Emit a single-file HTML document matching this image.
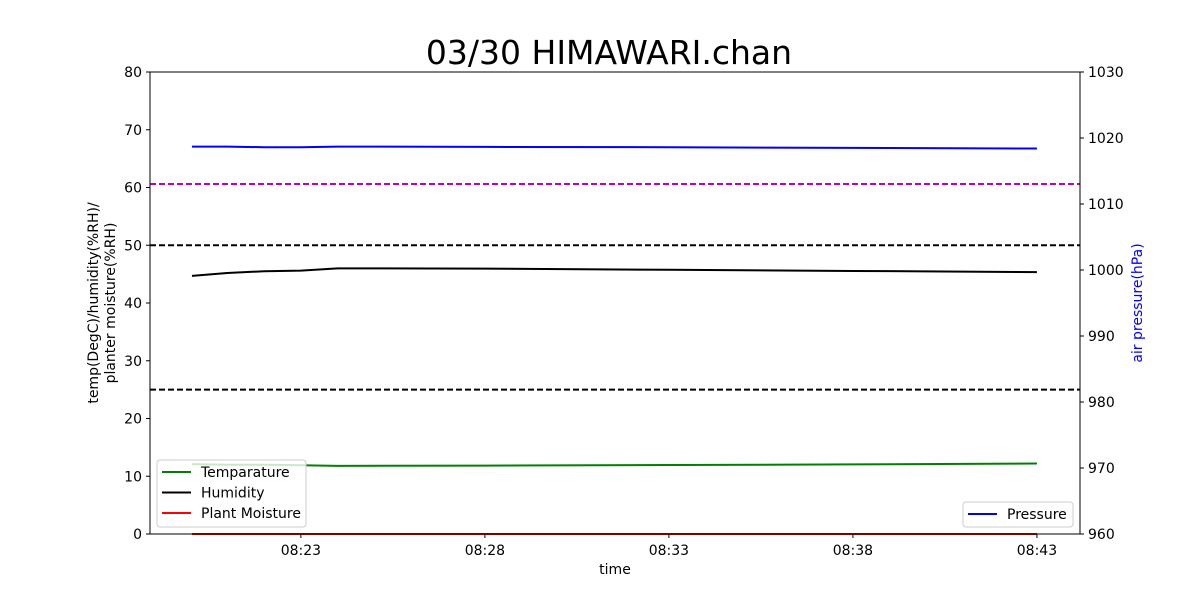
<!DOCTYPE html>
<html><head><meta charset="utf-8"><style>
body{margin:0;background:#fff}
svg{font-family:"DejaVu Sans","Liberation Sans",sans-serif}
</style></head><body>
<svg id="chart" width="1200" height="600" xmlns="http://www.w3.org/2000/svg"></svg>
<script>
// minutes after 08:00
const times=[20.04,21.0,22.0,23.0,24.0,28,33,38,43];
const temperature=[12.1,12.0,12.0,11.9,11.8,11.85,11.95,12.05,12.2];
const humidity=[44.7,45.2,45.5,45.6,46.0,45.95,45.75,45.55,45.35];
const plantMoisture=[0,0,0,0,0,0,0,0,0];
const pressure=[1018.7,1018.7,1018.6,1018.6,1018.7,1018.65,1018.6,1018.5,1018.4];
const hLines=[{v:60.6,c:"#bf00bf"},{v:50,c:"#000"},{v:25,c:"#000"}];
const leftTicks=[0,10,20,30,40,50,60,70,80];
const rightTicks=[960,970,980,990,1000,1010,1020,1030];
const xTicks=[23,28,33,38,43];
const xTickLabels=["08:23","08:28","08:33","08:38","08:43"];

const L=150,R=1080,T=72,B=534;
const X0=18.9,X1=44.17;
const xs=m=>L+(m-X0)/(X1-X0)*(R-L);
const yl=v=>B-v/80*(B-T);
const yr=v=>B-(v-960)/70*(B-T);
const svg=document.getElementById('chart');
const NS="http://www.w3.org/2000/svg";
function el(tag,attrs,parent){const e=document.createElementNS(NS,tag);for(const k in attrs)e.setAttribute(k,attrs[k]);(parent||svg).appendChild(e);return e;}
function txt(s,attrs){const e=el('text',attrs);e.textContent=s;return e;}

let t=txt("03/30 HIMAWARI.chan",{x:609,y:64,'text-anchor':'middle','font-size':33});



hLines.forEach((h,i)=>{
 const l=el('line',{x1:L,x2:R,y1:yl(h.v),y2:yl(h.v),stroke:h.c,'stroke-width':2,'stroke-dasharray':'6,3'});
 
 
});
function series(vals,yf,color,name){
 const p=el('polyline',{points:vals.map((v,i)=>xs(times[i])+','+yf(v)).join(' '),fill:'none',stroke:color,'stroke-width':2});
 
 
}
series(temperature,yl,'#008000','temperature-line');
series(humidity,yl,'#000','humidity-line');
series(plantMoisture,yl,'#ff0000','plant-moisture-line');
series(pressure,yr,'#0000ff','pressure-line');

const frame=el('rect',{x:L,y:T,width:R-L,height:B-T,fill:'none',stroke:'#000','stroke-width':1});



leftTicks.forEach(v=>{
 el('line',{x1:L-4,x2:L,y1:yl(v),y2:yl(v),stroke:'#000'});
 const e=txt(v,{x:L-8,y:yl(v)+5,'text-anchor':'end','font-size':14});
 
 
});
rightTicks.forEach(v=>{
 el('line',{x1:R,x2:R+4,y1:yr(v),y2:yr(v),stroke:'#000'});
 const e=txt(v,{x:R+8,y:yr(v)+5,'font-size':14});
 
 
});
xTicks.forEach((v,i)=>{
 el('line',{x1:xs(v),x2:xs(v),y1:B,y2:B+4,stroke:'#000'});
 const e=txt(xTickLabels[i],{x:xs(v),y:B+21,'text-anchor':'middle','font-size':14});
 
 
});
let xt=txt("time",{x:615,y:574,'text-anchor':'middle','font-size':14});


let yt=txt("",{transform:'translate(98,303) rotate(-90)','text-anchor':'middle','font-size':14});
yt.innerHTML='<tspan x="0" dy="0">temp(DegC)/humidity(%RH)/</tspan><tspan x="0" dy="17">planter moisture(%RH)</tspan>';


let rt=txt("air pressure(hPa)",{transform:'translate(1142,303) rotate(-90)','text-anchor':'middle','font-size':14,fill:'#0000ff'});



const lg=el('g',{});


el('rect',{x:157,y:460,width:149,height:67,rx:3,fill:'#fff','fill-opacity':0.8,stroke:'#ccc'},lg);
[["Temparature","#008000"],["Humidity","#000"],["Plant Moisture","#ff0000"]].forEach((d,i)=>{
 const y=472+i*20.5;
 el('line',{x1:162,x2:191,y1:y,y2:y,stroke:d[1],'stroke-width':2},lg);
 const e=el('text',{x:201,y:y+5,'font-size':14},lg);e.textContent=d[0];
 
 
});
const rg=el('g',{});


el('rect',{x:963,y:502,width:110,height:25,rx:3,fill:'#fff','fill-opacity':0.8,stroke:'#ccc'},rg);
el('line',{x1:968,x2:997,y1:514,y2:514,stroke:'#0000ff','stroke-width':2},rg);
const pe=el('text',{x:1007,y:519,'font-size':14},rg);pe.textContent="Pressure";


</script>
</body></html>
